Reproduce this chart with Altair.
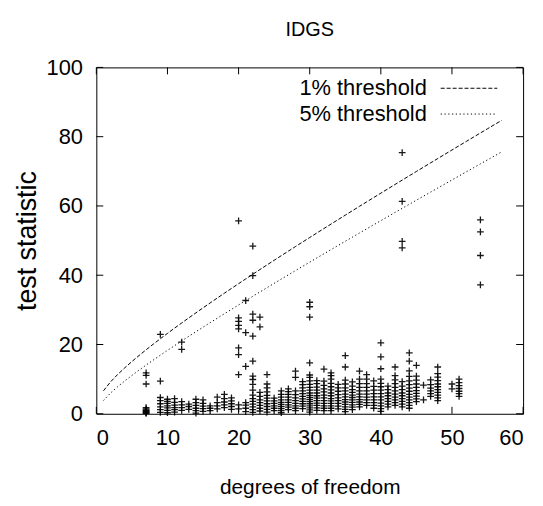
import altair as alt
import pandas as pd

# ---------------- data ----------------
X_TICKS = [0, 10, 20, 30, 40, 50, 60]
Y_TICKS = [0, 20, 40, 60, 80, 100]

SERIES = ["1% threshold", "5% threshold"]
DASHES = [[4, 2], [1.2, 2.6]]
THRESH_DF = list(range(1, 58))
CHI2_99 = [6.635, 9.210, 11.345, 13.277, 15.086, 16.812, 18.475, 20.090, 21.666, 23.209,
           24.725, 26.217, 27.688, 29.141, 30.578, 32.000, 33.409, 34.805, 36.191, 37.566,
           38.932, 40.289, 41.638, 42.980, 44.314, 45.642, 46.963, 48.278, 49.588, 50.892,
           52.191, 53.486, 54.776, 56.061, 57.342, 58.619, 59.893, 61.162, 62.428, 63.691,
           64.950, 66.206, 67.459, 68.710, 69.957, 71.201, 72.443, 73.683, 74.919, 76.154,
           77.386, 78.616, 79.843, 81.069, 82.292, 83.513, 84.733]
CHI2_95 = [3.841, 5.991, 7.815, 9.488, 11.070, 12.592, 14.067, 15.507, 16.919, 18.307,
           19.675, 21.026, 22.362, 23.685, 24.996, 26.296, 27.587, 28.869, 30.144, 31.410,
           32.671, 33.924, 35.172, 36.415, 37.652, 38.885, 40.113, 41.337, 42.557, 43.773,
           44.985, 46.194, 47.400, 48.602, 49.802, 50.998, 52.192, 53.384, 54.572, 55.758,
           56.942, 58.124, 59.304, 60.481, 61.656, 62.830, 64.001, 65.171, 66.339, 67.505,
           68.669, 69.832, 70.993, 72.153, 73.311, 74.468, 75.624]

# test statistics observed, grouped by degrees of freedom
DOF = [7, 9, 10, 11, 12, 13, 14, 15, 16, 17, 18, 19, 20, 21, 22, 23, 24, 25, 26, 27,
       28, 29, 30, 31, 32, 33, 34, 35, 36, 37, 38, 39, 40, 41, 42, 43, 44, 45, 46, 47,
       48, 50, 51, 54]
STAT = [
    [0.1, 0.3, 0.5, 0.7, 0.9, 1.1, 1.4, 1.8, 8.6, 11.1, 11.8],
    [0.4, 1.2, 2.0, 2.9, 3.8, 4.7, 9.4, 22.9],
    [0.3, 1.0, 1.7, 2.3, 3.0, 3.6, 4.2],
    [0.5, 1.2, 1.8, 2.5, 3.3, 4.4],
    [1.0, 1.8, 2.6, 3.5, 18.6, 20.7],
    [1.3, 2.1, 2.8],
    [0.2, 0.9, 1.6, 2.4, 3.2, 4.2],
    [0.7, 1.5, 2.2, 3.0, 4.0],
    [0.9, 1.6, 2.3],
    [1.4, 2.3, 3.2, 4.8],
    [1.8, 2.6, 3.4, 4.4, 5.6],
    [1.3, 2.1, 2.9, 3.7, 4.6],
    [1.4, 2.6, 11.3, 17.1, 19.0, 24.5, 25.5, 26.7, 27.7, 55.7],
    [0.6, 1.6, 2.5, 3.2, 13.7, 23.4, 32.7],
    [0.4, 1.2, 2.0, 2.8, 3.6, 4.4, 5.4, 6.8, 8.5, 9.9, 10.9, 15.2, 22.4, 27.0, 28.8, 39.9, 48.4],
    [0.8, 1.6, 2.4, 3.2, 4.0, 5.0, 6.2, 25.1, 27.9],
    [0.5, 1.3, 2.1, 2.9, 3.7, 4.5, 5.3, 6.3, 7.5, 8.6, 11.3],
    [0.9, 1.6, 2.3, 3.0, 3.7, 4.5],
    [0.3, 0.9, 1.5, 2.1, 2.7, 3.3, 4.0, 4.8, 5.6, 6.6],
    [1.2, 1.9, 2.6, 3.3, 4.0, 4.8, 5.6, 6.4, 7.2],
    [0.9, 1.6, 2.3, 3.0, 3.8, 4.6, 5.5, 6.6, 10.5, 12.3],
    [1.5, 2.2, 2.9, 3.6, 4.3, 5.0, 5.8, 6.6, 7.5, 8.4, 9.3],
    [0.5, 1.1, 1.7, 2.3, 2.9, 3.5, 4.1, 4.7, 5.3, 6.0, 6.8, 7.6, 8.5, 9.5, 10.5, 11.2, 14.7, 27.9, 30.9, 32.2],
    [1.0, 1.7, 2.4, 3.1, 3.8, 4.5, 5.2, 6.0, 6.8, 7.7, 8.7, 9.6],
    [0.9, 1.6, 2.3, 3.0, 3.8, 4.6, 5.4, 6.3, 7.2, 8.2, 9.4, 12.9],
    [0.9, 1.6, 2.3, 3.0, 3.7, 4.4, 5.2, 6.0, 6.9, 7.8, 8.8, 10.0, 11.0, 11.8],
    [1.4, 2.2, 3.0, 3.8, 4.6, 5.5, 6.5, 7.5, 8.5],
    [0.6, 1.3, 2.0, 2.7, 3.4, 4.1, 4.9, 5.7, 6.6, 7.5, 8.6, 9.7, 13.5, 16.8],
    [1.2, 1.9, 2.6, 3.3, 4.0, 4.7, 5.4, 6.2, 7.0, 8.0, 9.2],
    [2.0, 2.7, 3.4, 4.1, 4.9, 5.7, 6.6, 7.6, 8.7, 10.0, 12.3],
    [2.4, 3.2, 4.0, 4.8, 5.7, 6.6, 7.6, 8.7, 10.0, 11.3],
    [1.6, 2.4, 3.2, 4.0, 4.9, 5.8, 6.8, 7.9, 9.5],
    [0.7, 1.5, 2.3, 3.1, 4.0, 4.9, 5.8, 6.8, 7.8, 8.8, 10.0, 13.0, 16.4, 20.5],
    [2.0, 2.8, 3.6, 4.4, 5.2, 6.0, 7.0, 8.0],
    [2.4, 3.2, 4.0, 4.8, 5.7, 6.6, 7.6, 8.7, 9.8, 11.0, 13.5],
    [2.0, 2.8, 3.6, 4.4, 5.2, 6.0, 7.0, 8.0, 9.3, 47.9, 49.8, 61.3, 75.4],
    [1.6, 2.4, 3.2, 4.0, 4.8, 5.6, 6.5, 7.4, 8.4, 9.5, 10.8, 12.4, 15.2, 17.6],
    [3.5, 4.3, 5.1, 5.9, 6.7, 7.6, 8.6, 9.7, 10.9, 14.0],
    [4.0, 8.3],
    [5.0, 5.8, 6.6, 7.4, 8.4, 9.8],
    [3.8, 4.6, 5.4, 6.2, 7.0, 7.8, 8.6, 9.6, 10.6, 11.6, 13.5],
    [7.2, 8.6],
    [5.0, 5.8, 6.5, 7.3, 8.1, 9.0, 10.0],
    [37.2, 45.7, 52.5, 56.0],
]

# ---------------- tables ----------------
pts = pd.DataFrame(
    [(d, v) for d, vals in zip(DOF, STAT) for v in vals], columns=["df", "stat"]
)
lines = pd.DataFrame(
    {
        "df": THRESH_DF * 2,
        "crit": CHI2_99 + CHI2_95,
        "series": [SERIES[0]] * len(THRESH_DF) + [SERIES[1]] * len(THRESH_DF),
    }
)
xt = pd.DataFrame({"v": X_TICKS})
yt = pd.DataFrame({"v": Y_TICKS})

W, H = 430, 349
FONT = "Liberation Sans"
TL = 7

xscale = alt.Scale(domain=[0, 60], nice=False, zero=False)
yscale = alt.Scale(domain=[0, 100], nice=False, zero=False)

xaxis = alt.Axis(values=X_TICKS, title="degrees of freedom", grid=False, ticks=False,
                 domain=False, labelPadding=14, titlePadding=28, format="d",
                 labelFont=FONT, labelFontSize=22, labelColor="black",
                 titleFont=FONT, titleFontSize=21, titleColor="black", titleFontWeight="normal")
yaxis = alt.Axis(values=Y_TICKS, title="test statistic", grid=False, ticks=False,
                 domain=False, labelPadding=14, titlePadding=5, format="d",
                 labelFont=FONT, labelFontSize=22, labelColor="black",
                 titleFont=FONT, titleFontSize=27, titleColor="black", titleFontWeight="normal")

points = alt.Chart(pts).mark_point(
    shape="M-1,0H1M0,-1V1", filled=False, color="black", strokeWidth=1.3, size=46, opacity=0.9
).encode(
    x=alt.X("df:Q", scale=xscale, axis=xaxis),
    y=alt.Y("stat:Q", scale=yscale, axis=yaxis),
)

thresh = alt.Chart(lines).mark_line(color="black", strokeWidth=1, clip=True).encode(
    x=alt.X("df:Q", scale=xscale),
    y=alt.Y("crit:Q", scale=yscale),
    detail="series:N",
    strokeDash=alt.StrokeDash(
        "series:N", scale=alt.Scale(domain=SERIES, range=DASHES), legend=None
    ),
)

# gnuplot-style key: label on the left, line sample on the right
key_layers = []
for i, name in enumerate(SERIES):
    row = pd.DataFrame({"series": [name]})
    ypos = 21 + 26 * i
    key_layers.append(
        alt.Chart(row).mark_text(align="right", baseline="middle", font=FONT,
                                 fontSize=22, color="black").encode(
            text="series:N", x=alt.value(333), y=alt.value(ypos))
    )
    key_layers.append(
        alt.Chart(row).mark_rule(color="black", strokeWidth=1, strokeDash=DASHES[i]).encode(
            x=alt.value(347), x2=alt.value(404), y=alt.value(ypos))
    )

tick_bottom = alt.Chart(xt).mark_rule(color="black", strokeWidth=1).encode(
    x=alt.X("v:Q", scale=xscale), y=alt.value(H), y2=alt.value(H - TL))
tick_top = alt.Chart(xt).mark_rule(color="black", strokeWidth=1).encode(
    x=alt.X("v:Q", scale=xscale), y=alt.value(0), y2=alt.value(TL))
tick_left = alt.Chart(yt).mark_rule(color="black", strokeWidth=1).encode(
    y=alt.Y("v:Q", scale=yscale), x=alt.value(0), x2=alt.value(TL))
tick_right = alt.Chart(yt).mark_rule(color="black", strokeWidth=1).encode(
    y=alt.Y("v:Q", scale=yscale), x=alt.value(W), x2=alt.value(W - TL))

chart = alt.layer(
    points, tick_bottom, tick_top, tick_left, tick_right, thresh, *key_layers
).properties(
    width=W, height=H,
    title=alt.Title("IDGS", font=FONT, fontSize=20, fontWeight="normal", color="black",
                    anchor="middle", offset=17),
    autosize=alt.AutoSizeParams(type="none"),
    padding={"left": 89, "top": 58, "right": 12, "bottom": 83},
    background="white",
).configure_view(
    stroke="black", strokeWidth=1
)

chart.save("out.html", embed_options={"renderer": "svg", "actions": False})
